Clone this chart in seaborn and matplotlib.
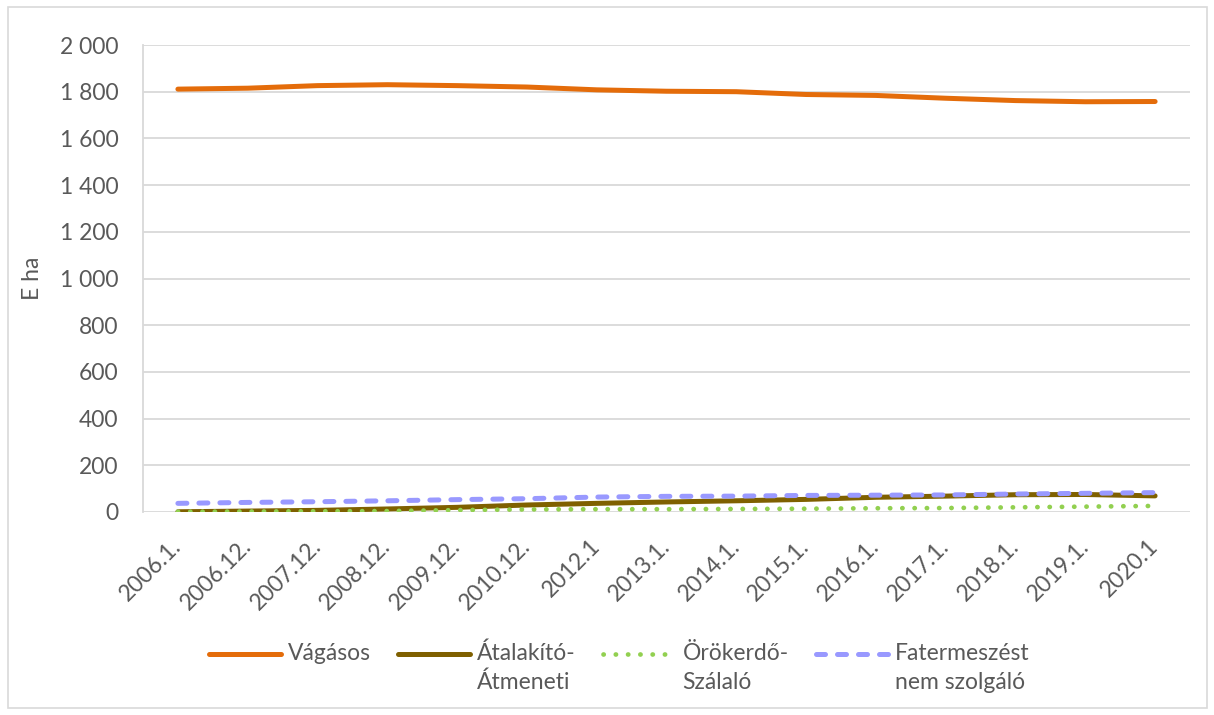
import numpy as np
import pandas as pd
import matplotlib
matplotlib.use("Agg")
import matplotlib.pyplot as plt
from matplotlib.ticker import FuncFormatter, MultipleLocator
from matplotlib.patches import Rectangle
import seaborn as sns

# data (E ha)
periods = ['2006.1.', '2006.12.', '2007.12.', '2008.12.', '2009.12.', '2010.12.',
           '2012.1', '2013.1.', '2014.1.', '2015.1.', '2016.1.', '2017.1.',
           '2018.1.', '2019.1.', '2020.1']
vagasos = [1811, 1815, 1826, 1830, 1826, 1820, 1808, 1802, 1800, 1788, 1784, 1772, 1762, 1757, 1758]
atalakito = [1, 4, 7, 13, 20, 30, 37, 43, 48, 54, 63, 68, 74, 75, 69]
orokerdo = [1, 2, 3, 4, 8, 11, 12, 12, 13, 14, 16, 17, 20, 23, 26]
fatermeszest = [37, 41, 44, 48, 53, 57, 64, 67, 68, 71, 72, 73, 77, 80, 83]
labels = ['Vágásos\n ', 'Átalakító-\nÁtmeneti', 'Örökerdő-\nSzálaló', 'Fatermeszést\nnem szolgáló']

sns.set_theme(style="white")
plt.rcParams['font.family'] = ['Lato', 'DejaVu Sans']
txt = '#595959'
grid = '#D9D9D9'
fs = 16.5

df = pd.DataFrame({'idx': np.arange(len(periods)), 'Vágásos': vagasos,
                   'Átalakító': atalakito, 'Örökerdő': orokerdo,
                   'Fatermeszést': fatermeszest})

fig = plt.figure(figsize=(12.14, 7.15), dpi=100)
ax = fig.add_axes([143/1214, 1-512/715, (1190-143)/1214, (512-45)/715])

sns.lineplot(data=df, x='idx', y='Vágásos', ax=ax, color='#E46C0A', linewidth=3.6)
sns.lineplot(data=df, x='idx', y='Átalakító', ax=ax, color='#7F6000', linewidth=3.6)
sns.lineplot(data=df, x='idx', y='Örökerdő', ax=ax, color='#92D050', linewidth=3.4,
             linestyle=(0, (0.05, 2.55)))
sns.lineplot(data=df, x='idx', y='Fatermeszést', ax=ax, color='#9999FF', linewidth=3.6,
             linestyle=(0, (1.8, 2.4)))
for ln in ax.get_lines():
    ln.set_solid_capstyle('round')
    ln.set_dash_capstyle('round')

ax.set_xlim(-0.5, len(periods)-0.5)
ax.set_ylim(0, 2000)
ax.yaxis.set_major_locator(MultipleLocator(200))
ax.yaxis.set_major_formatter(FuncFormatter(lambda v, p: f"{v:,.0f}".replace(",", " ")))
ax.grid(axis='y', color=grid, linewidth=1.3)
ax.set_axisbelow(True)
for s in ['top', 'right', 'bottom']:
    ax.spines[s].set_visible(False)
ax.spines['left'].set_color(grid)
ax.spines['left'].set_linewidth(1.3)

ax.set_xticks(np.arange(len(periods)))
ax.set_xticklabels(periods, rotation=45, ha='right', va='center', rotation_mode='anchor')
ax.tick_params(axis='both', length=0, labelsize=fs, labelcolor=txt)
ax.tick_params(axis='x', pad=22)
ax.tick_params(axis='y', pad=17.5)
ax.set_xlabel('')
ax.set_ylabel('E ha', fontsize=fs, color=txt, labelpad=12)

leg = fig.legend(ax.get_lines(), labels, loc='upper center', ncol=4,
                 bbox_to_anchor=(0.51, 0.13), frameon=False, fontsize=fs,
                 handlelength=3.15, handletextpad=0.3, columnspacing=1.2,
                 labelcolor=txt)
for t in leg.get_texts():
    t.set_linespacing(1.44)
for h in leg.legend_handles:
    h.set_ydata(np.array(h.get_ydata()) + 10.8)

fig.add_artist(Rectangle((8/1214, 7/715), 1199/1214, 701/715, transform=fig.transFigure,
                         fill=False, edgecolor=grid, linewidth=1.2))

fig.savefig('out.png', dpi=100)
